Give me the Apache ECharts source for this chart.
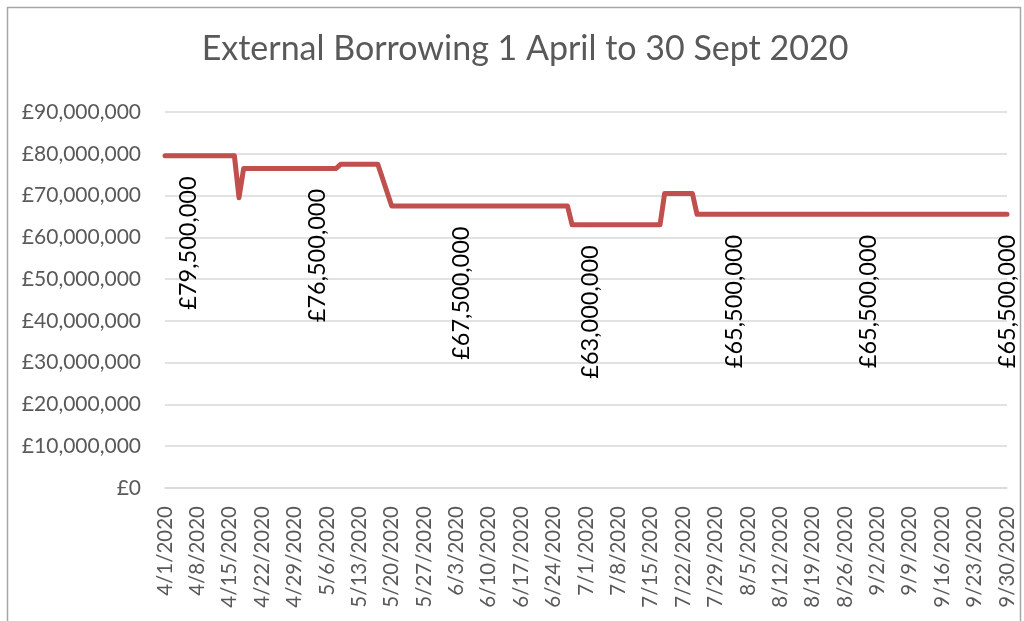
<!DOCTYPE html>
<html>
<head>
<meta charset="utf-8">
<script src="https://cdn.jsdelivr.net/npm/echarts@6/dist/echarts.min.js"></script>
<style>html,body{margin:0;padding:0;background:#fff;}#c{width:1024px;height:621px;}</style>
</head>
<body>
<div id="c"></div>
<script>
// ---- data ----
const startDate = [2020, 4, 1];
const dayCount = 183; // 1 April to 30 Sept 2020
const pointDates = ['4/1/2020','4/6/2020','4/16/2020','4/17/2020','4/18/2020','5/4/2020','5/8/2020','5/9/2020','5/17/2020','5/20/2020','6/4/2020','6/27/2020','6/28/2020','7/2/2020','7/17/2020','7/18/2020','7/24/2020','7/25/2020','8/2/2020','8/31/2020','9/30/2020'];
const pointValues = [79500000,79500000,79500000,69500000,76500000,76500000,76500000,77500000,77500000,67500000,67500000,67500000,63000000,63000000,63000000,70500000,70500000,65500000,65500000,65500000,65500000];
const labelledDates = ['4/6/2020','5/4/2020','6/4/2020','7/2/2020','8/2/2020','8/31/2020','9/30/2020'];
const titleText = 'External Borrowing 1 April to 30 Sept 2020';

// category axis: every day of the period
const categories = [];
{
  const d0 = new Date(Date.UTC(startDate[0], startDate[1]-1, startDate[2]));
  for (let i = 0; i < dayCount; i++) {
    const d = new Date(d0.getTime() + i*86400000);
    categories.push((d.getUTCMonth()+1) + '/' + d.getUTCDate() + '/' + d.getUTCFullYear());
  }
}
const fmt = v => '£' + Math.round(v).toString().replace(/\B(?=(\d{3})+(?!\d))/g, ',');

const seriesData = pointDates.map((dt, i) => {
  const item = { value: [dt, pointValues[i]] };
  if (labelledDates.indexOf(dt) >= 0) item.label = { show: true };
  return item;
});

const chart = echarts.init(document.getElementById('c'));
chart.setOption({
  animation: false,
  backgroundColor: '#fff',
  title: {
    text: titleText, left: 520, textAlign: 'center', top: 27,
    textStyle: { fontFamily: 'Lato', fontSize: 34, fontWeight: 'normal', color: '#595959' }
  },
  graphic: [{
    type: 'rect', shape: { x: 7.5, y: 7.5, width: 1013, height: 640 },
    style: { fill: 'none', stroke: '#a6a6a6', lineWidth: 1.5 }, silent: true
  }],
  grid: { left: 165, right: 17, top: 112, bottom: 133 },
  xAxis: {
    type: 'category', data: categories, boundaryGap: false,
    axisLine: { lineStyle: { color: '#d9d9d9', width: 1.5 } },
    axisTick: { show: false },
    axisLabel: { interval: 6, rotate: 90, margin: 18, color: '#595959', fontFamily: 'Lato', fontSize: 20.5 },
    splitLine: { show: false }
  },
  yAxis: {
    type: 'value', min: 0, max: 90000000, interval: 10000000,
    axisLine: { show: false }, axisTick: { show: false },
    axisLabel: { formatter: fmt, margin: 24, color: '#595959', fontFamily: 'Lato', fontSize: 21 },
    splitLine: { lineStyle: { color: '#d9d9d9', width: 1.5 } }
  },
  series: [{
    type: 'line', data: seriesData,
    symbol: 'circle', symbolSize: 1, showSymbol: true,
    itemStyle: { color: '#c0504d' },
    lineStyle: { color: '#c0504d', width: 5, cap: 'round', join: 'round' },
    label: {
      show: false, position: 'bottom', distance: 20, rotate: 90,
      align: 'right', verticalAlign: 'middle',
      formatter: p => fmt(p.value[1]),
      color: '#000', fontFamily: 'Lato', fontSize: 23.5
    }
  }]
});
</script>
</body>
</html>
